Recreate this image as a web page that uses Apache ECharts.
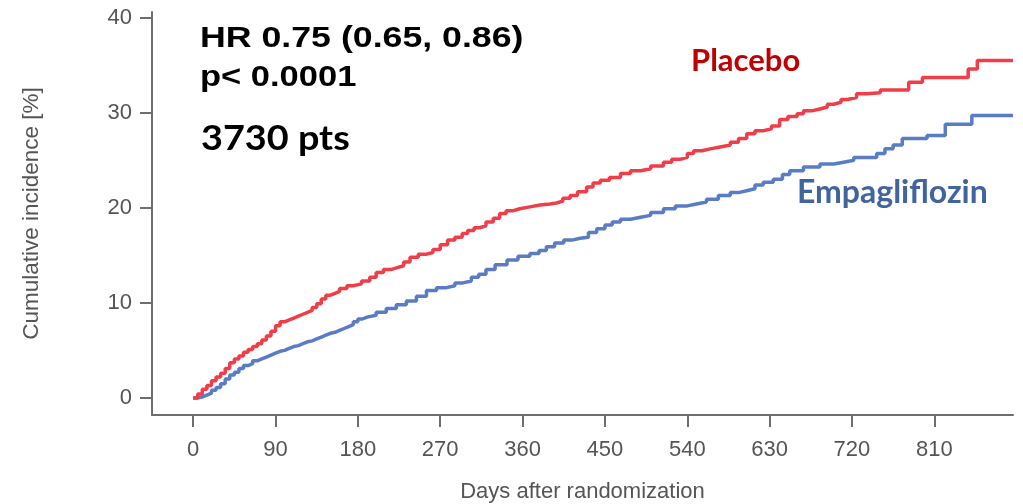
<!DOCTYPE html>
<html>
<head>
<meta charset="utf-8">
<script src="https://cdn.jsdelivr.net/npm/echarts@6/dist/echarts.min.js"></script>
<style>html,body{margin:0;padding:0;background:#fff;}#c{width:1023px;height:504px;}</style>
</head>
<body>
<div id="c"></div>
<script>
const xTicks = [0, 90, 180, 270, 360, 450, 540, 630, 720, 810];
const yTicks = [0, 10, 20, 30, 40];

const placeboDays = [0,5,10,15,20,25,30,35,40,45,50,55,60,65,70,75,80,85,90,95,100,105,110,115,120,125,130,135,140,145,150,155,160,168,175,184,193,200,208,216,223,230,237,246,254,262,270,278,286,294,300,307,313,320,328,335,342,350,357,368,379,390,397,404,412,420,430,437,445,455,467,478,489,500,514,523,532,540,547,556,565,576,587,596,605,614,623,632,641,650,660,667,676,685,693,700,708,715,725,736,751,782,797,847,857,896];
const placeboVals = [0,0.4,0.9,1.3,1.8,2.2,2.6,3.1,3.7,4.1,4.4,4.8,5.1,5.4,5.7,6.1,6.5,7.0,7.6,8.0,8.2,8.4,8.6,8.8,9.0,9.2,9.5,9.9,10.4,10.8,11.0,11.2,11.5,11.8,12.0,12.3,12.7,13.2,13.5,13.7,13.9,14.3,14.8,15.1,15.3,15.6,16.1,16.6,16.9,17.3,17.6,17.9,18.1,18.5,18.9,19.4,19.7,19.9,20.1,20.3,20.4,20.5,20.7,21.0,21.3,21.7,22.2,22.6,22.9,23.2,23.6,23.9,24.1,24.4,24.8,25.1,25.3,25.7,26.0,26.2,26.4,26.6,26.9,27.3,27.8,28.1,28.3,28.6,29.3,29.6,29.9,30.2,30.4,30.6,30.9,31.1,31.4,31.6,32.0,32.1,32.4,33.2,33.7,34.6,35.5,35.5];

const empaDays = [0,5,10,15,20,25,30,35,40,45,50,55,60,65,70,75,80,85,90,95,100,105,110,115,120,125,130,135,140,145,150,155,160,165,170,175,180,185,190,200,211,222,233,244,255,266,277,286,295,304,312,320,330,343,355,368,378,386,395,405,414,423,432,441,450,458,467,478,489,500,514,527,540,550,561,574,587,596,605,614,623,634,644,652,667,685,700,711,722,747,756,765,775,802,822,851,896];
const empaVals = [0,0.1,0.3,0.5,0.8,1.1,1.5,2.0,2.4,2.7,3.1,3.4,3.6,3.9,4.1,4.3,4.5,4.7,4.9,5.0,5.2,5.4,5.5,5.7,5.9,6.0,6.2,6.4,6.6,6.8,6.9,7.1,7.3,7.5,7.7,8.0,8.3,8.5,8.7,9.0,9.4,9.8,10.2,10.7,11.3,11.6,11.8,12.1,12.3,12.7,13.0,13.5,14.0,14.5,14.9,15.2,15.5,15.9,16.3,16.6,16.8,16.9,17.4,17.8,18.2,18.5,18.8,19.0,19.2,19.5,19.9,20.2,20.4,20.6,20.9,21.3,21.6,21.8,22.0,22.4,22.7,23.0,23.5,23.9,24.3,24.6,24.8,25.0,25.3,25.7,26.2,26.6,27.3,27.6,28.8,29.7,29.7];

const pairs = (xs, ys) => xs.map((x, i) => [x, ys[i]]);

const chart = echarts.init(document.getElementById('c'), null, {renderer: 'canvas'});
const axisGray = '#6e6e6e';
const labelGray = '#555555';

chart.setOption({
  animation: false,
  backgroundColor: '#ffffff',
  grid: {left: 152, right: 10, top: 12, bottom: 89, containLabel: false, outerBoundsMode: 'none'},
  xAxis: {
    type: 'value', min: -45, max: 896,
    name: 'Days after randomization', nameLocation: 'middle', nameGap: 66,
    nameTextStyle: {fontSize: 22, color: labelGray, fontFamily: 'Liberation Sans'},
    axisLine: {show: true, onZero: false, lineStyle: {color: axisGray, width: 2}},
    axisTick: {show: true, customValues: xTicks, length: 12, lineStyle: {color: axisGray, width: 2}},
    axisLabel: {customValues: xTicks, fontSize: 22, color: labelGray, margin: 24, fontFamily: 'Liberation Sans'},
    splitLine: {show: false}
  },
  yAxis: {
    type: 'value', min: -1.8, max: 40.6,
    name: 'Cumulative incidence [%]', nameLocation: 'middle', nameGap: 109,
    nameTextStyle: {fontSize: 22.5, color: labelGray, fontFamily: 'Liberation Sans'},
    axisLine: {show: true, onZero: false, lineStyle: {color: axisGray, width: 2}},
    axisTick: {show: true, customValues: yTicks, length: 12, lineStyle: {color: axisGray, width: 2}},
    axisLabel: {customValues: yTicks, fontSize: 22, color: labelGray, margin: 20, fontFamily: 'Liberation Sans'},
    splitLine: {show: false}
  },
  series: [
    {name: 'Placebo', type: 'line', step: 'end', showSymbol: false, data: pairs(placeboDays, placeboVals),
     lineStyle: {color: '#EF3E48', width: 3.5}, itemStyle: {color: '#EF3E48'}, z: 3},
    {name: 'Empagliflozin', type: 'line', step: 'end', showSymbol: false, data: pairs(empaDays, empaVals),
     lineStyle: {color: '#5A7CC6', width: 3.5}, itemStyle: {color: '#5A7CC6'}, z: 2}
  ],
  graphic: [
    {type: 'text', x: 200, y: 39, scaleX: 1.19, style: {text: 'HR 0.75 (0.65, 0.86)', fontSize: 30, fontWeight: 'bold', fontFamily: 'Liberation Sans', fill: '#000', align: 'left', verticalAlign: 'middle'}},
    {type: 'text', x: 200, y: 77.5, scaleX: 1.15, style: {text: 'p< 0.0001', fontSize: 30, fontWeight: 'bold', fontFamily: 'Liberation Sans', fill: '#000', align: 'left', verticalAlign: 'middle'}},
    {type: 'text', x: 201, y: 139, scaleX: 1.08, style: {text: '3730 pts', fontSize: 35, fontWeight: 'bold', fontFamily: 'Lato', fill: '#000', align: 'left', verticalAlign: 'middle'}},
    {type: 'text', x: 691, y: 61, style: {text: 'Placebo', fontSize: 31, fontWeight: 'bold', fontFamily: 'Lato', fill: '#C00000', align: 'left', verticalAlign: 'middle'}},
    {type: 'text', x: 797, y: 192.5, style: {text: 'Empagliflozin', fontSize: 32, fontWeight: 'bold', fontFamily: 'Lato', fill: '#40659E', align: 'left', verticalAlign: 'middle'}}
  ]
});
</script>
</body>
</html>
